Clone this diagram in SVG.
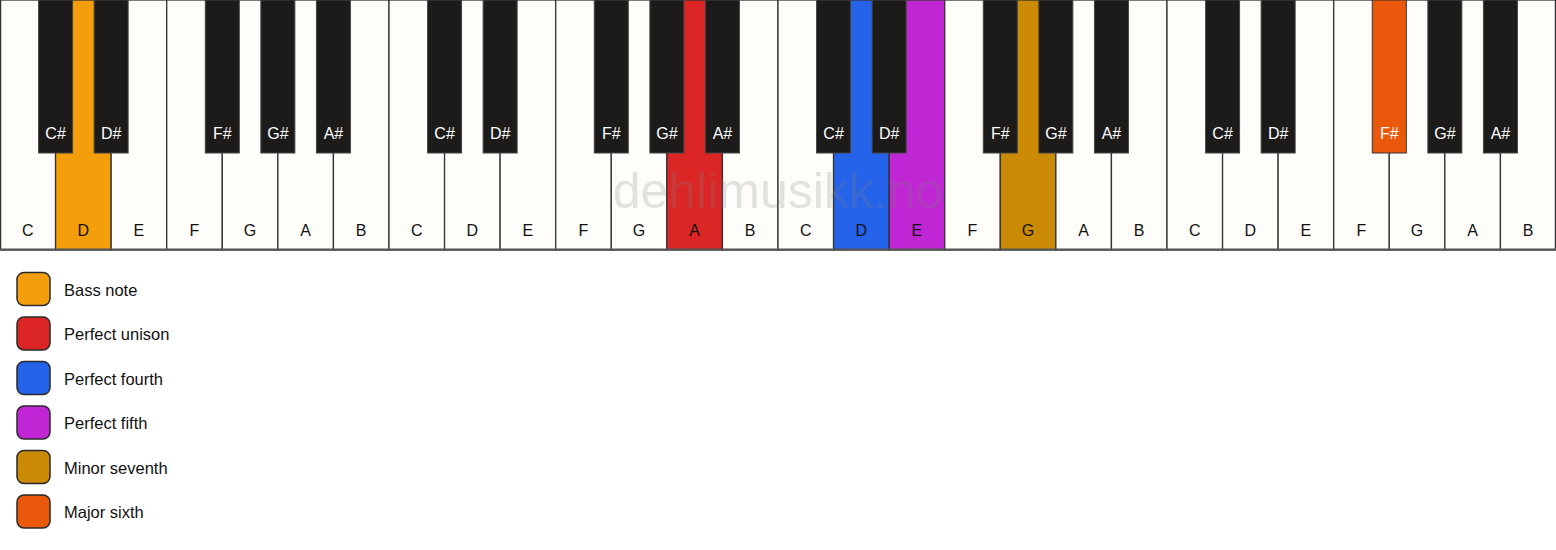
<svg xmlns="http://www.w3.org/2000/svg" width="1556" height="550" viewBox="0 0 1556 550">
<style>
.w{fill:#fefdf9;stroke:#333;stroke-width:1.3}
.b{fill:#1c1b1a;stroke:#444;stroke-width:1}
.wl{font-family:"Liberation Sans",Arial,sans-serif;font-size:16px;fill:#111;text-anchor:middle}
.bl{font-family:"Liberation Sans",Arial,sans-serif;font-size:16px;fill:#fff;text-anchor:middle}
.lg{stroke:#2a2a2a;stroke-width:1.5}
.lt{font-family:"Liberation Sans",Arial,sans-serif;font-size:16.5px;fill:#111}
.wm{font-family:"Liberation Sans",Arial,sans-serif;font-size:50px;fill:#808080;opacity:0.22;text-anchor:middle}
</style>
<rect x="0" y="0" width="1556" height="550" fill="#ffffff"/>
<g id="white-keys">
<g id="w0"><rect class="w" x="0.6" y="0" width="54.97" height="250"/><text class="wl" x="27.79" y="236">C</text></g>
<g id="w1"><rect class="w" x="55.57" y="0" width="55.57" height="250" style="fill:#f59e0b"/><text class="wl" x="83.36" y="236">D</text></g>
<g id="w2"><rect class="w" x="111.14" y="0" width="55.57" height="250"/><text class="wl" x="138.93" y="236">E</text></g>
<g id="w3"><rect class="w" x="166.71" y="0" width="55.57" height="250"/><text class="wl" x="194.5" y="236">F</text></g>
<g id="w4"><rect class="w" x="222.29" y="0" width="55.57" height="250"/><text class="wl" x="250.07" y="236">G</text></g>
<g id="w5"><rect class="w" x="277.86" y="0" width="55.57" height="250"/><text class="wl" x="305.64" y="236">A</text></g>
<g id="w6"><rect class="w" x="333.43" y="0" width="55.57" height="250"/><text class="wl" x="361.21" y="236">B</text></g>
<g id="w7"><rect class="w" x="389" y="0" width="55.57" height="250"/><text class="wl" x="416.79" y="236">C</text></g>
<g id="w8"><rect class="w" x="444.57" y="0" width="55.57" height="250"/><text class="wl" x="472.36" y="236">D</text></g>
<g id="w9"><rect class="w" x="500.14" y="0" width="55.57" height="250"/><text class="wl" x="527.93" y="236">E</text></g>
<g id="w10"><rect class="w" x="555.71" y="0" width="55.57" height="250"/><text class="wl" x="583.5" y="236">F</text></g>
<g id="w11"><rect class="w" x="611.29" y="0" width="55.57" height="250"/><text class="wl" x="639.07" y="236">G</text></g>
<g id="w12"><rect class="w" x="666.86" y="0" width="55.57" height="250" style="fill:#dc2626"/><text class="wl" x="694.64" y="236">A</text></g>
<g id="w13"><rect class="w" x="722.43" y="0" width="55.57" height="250"/><text class="wl" x="750.21" y="236">B</text></g>
<g id="w14"><rect class="w" x="778" y="0" width="55.57" height="250"/><text class="wl" x="805.79" y="236">C</text></g>
<g id="w15"><rect class="w" x="833.57" y="0" width="55.57" height="250" style="fill:#2563eb"/><text class="wl" x="861.36" y="236">D</text></g>
<g id="w16"><rect class="w" x="889.14" y="0" width="55.57" height="250" style="fill:#c026d3"/><text class="wl" x="916.93" y="236">E</text></g>
<g id="w17"><rect class="w" x="944.71" y="0" width="55.57" height="250"/><text class="wl" x="972.5" y="236">F</text></g>
<g id="w18"><rect class="w" x="1000.29" y="0" width="55.57" height="250" style="fill:#ca8a04"/><text class="wl" x="1028.07" y="236">G</text></g>
<g id="w19"><rect class="w" x="1055.86" y="0" width="55.57" height="250"/><text class="wl" x="1083.64" y="236">A</text></g>
<g id="w20"><rect class="w" x="1111.43" y="0" width="55.57" height="250"/><text class="wl" x="1139.21" y="236">B</text></g>
<g id="w21"><rect class="w" x="1167" y="0" width="55.57" height="250"/><text class="wl" x="1194.79" y="236">C</text></g>
<g id="w22"><rect class="w" x="1222.57" y="0" width="55.57" height="250"/><text class="wl" x="1250.36" y="236">D</text></g>
<g id="w23"><rect class="w" x="1278.14" y="0" width="55.57" height="250"/><text class="wl" x="1305.93" y="236">E</text></g>
<g id="w24"><rect class="w" x="1333.71" y="0" width="55.57" height="250"/><text class="wl" x="1361.5" y="236">F</text></g>
<g id="w25"><rect class="w" x="1389.29" y="0" width="55.57" height="250"/><text class="wl" x="1417.07" y="236">G</text></g>
<g id="w26"><rect class="w" x="1444.86" y="0" width="55.57" height="250"/><text class="wl" x="1472.64" y="236">A</text></g>
<g id="w27"><rect class="w" x="1500.43" y="0" width="54.97" height="250"/><text class="wl" x="1528.21" y="236">B</text></g>
</g>
<line x1="0" y1="249.5" x2="1556" y2="249.5" stroke="#555" stroke-width="2"/>
<g id="black-keys">
<g id="b0"><rect class="b" x="38.57" y="0" width="34" height="153"/><text class="bl" x="55.57" y="139">C#</text></g>
<g id="b1"><rect class="b" x="94.14" y="0" width="34" height="153"/><text class="bl" x="111.14" y="139">D#</text></g>
<g id="b2"><rect class="b" x="205.29" y="0" width="34" height="153"/><text class="bl" x="222.29" y="139">F#</text></g>
<g id="b3"><rect class="b" x="260.86" y="0" width="34" height="153"/><text class="bl" x="277.86" y="139">G#</text></g>
<g id="b4"><rect class="b" x="316.43" y="0" width="34" height="153"/><text class="bl" x="333.43" y="139">A#</text></g>
<g id="b5"><rect class="b" x="427.57" y="0" width="34" height="153"/><text class="bl" x="444.57" y="139">C#</text></g>
<g id="b6"><rect class="b" x="483.14" y="0" width="34" height="153"/><text class="bl" x="500.14" y="139">D#</text></g>
<g id="b7"><rect class="b" x="594.29" y="0" width="34" height="153"/><text class="bl" x="611.29" y="139">F#</text></g>
<g id="b8"><rect class="b" x="649.86" y="0" width="34" height="153"/><text class="bl" x="666.86" y="139">G#</text></g>
<g id="b9"><rect class="b" x="705.43" y="0" width="34" height="153"/><text class="bl" x="722.43" y="139">A#</text></g>
<g id="b10"><rect class="b" x="816.57" y="0" width="34" height="153"/><text class="bl" x="833.57" y="139">C#</text></g>
<g id="b11"><rect class="b" x="872.14" y="0" width="34" height="153"/><text class="bl" x="889.14" y="139">D#</text></g>
<g id="b12"><rect class="b" x="983.29" y="0" width="34" height="153"/><text class="bl" x="1000.29" y="139">F#</text></g>
<g id="b13"><rect class="b" x="1038.86" y="0" width="34" height="153"/><text class="bl" x="1055.86" y="139">G#</text></g>
<g id="b14"><rect class="b" x="1094.43" y="0" width="34" height="153"/><text class="bl" x="1111.43" y="139">A#</text></g>
<g id="b15"><rect class="b" x="1205.57" y="0" width="34" height="153"/><text class="bl" x="1222.57" y="139">C#</text></g>
<g id="b16"><rect class="b" x="1261.14" y="0" width="34" height="153"/><text class="bl" x="1278.14" y="139">D#</text></g>
<g id="b17"><rect class="b" x="1372.29" y="0" width="34" height="153" style="fill:#ea580c;stroke:#333"/><text class="bl" x="1389.29" y="139">F#</text></g>
<g id="b18"><rect class="b" x="1427.86" y="0" width="34" height="153"/><text class="bl" x="1444.86" y="139">G#</text></g>
<g id="b19"><rect class="b" x="1483.43" y="0" width="34" height="153"/><text class="bl" x="1500.43" y="139">A#</text></g>
</g>
<text class="wm" x="778" y="208">dehlimusikk.no</text>
<g id="legend">
<g id="lg-bass"><rect class="lg" x="17" y="272.5" width="33" height="33" rx="7" fill="#f59e0b"/><text class="lt" x="64" y="295.5">Bass note</text></g>
<g id="lg-unison"><rect class="lg" x="17" y="317" width="33" height="33" rx="7" fill="#dc2626"/><text class="lt" x="64" y="340">Perfect unison</text></g>
<g id="lg-fourth"><rect class="lg" x="17" y="361.5" width="33" height="33" rx="7" fill="#2563eb"/><text class="lt" x="64" y="384.5">Perfect fourth</text></g>
<g id="lg-fifth"><rect class="lg" x="17" y="406" width="33" height="33" rx="7" fill="#c026d3"/><text class="lt" x="64" y="429">Perfect fifth</text></g>
<g id="lg-seventh"><rect class="lg" x="17" y="450.5" width="33" height="33" rx="7" fill="#ca8a04"/><text class="lt" x="64" y="473.5">Minor seventh</text></g>
<g id="lg-sixth"><rect class="lg" x="17" y="495" width="33" height="33" rx="7" fill="#ea580c"/><text class="lt" x="64" y="518">Major sixth</text></g>
</g>
</svg>
